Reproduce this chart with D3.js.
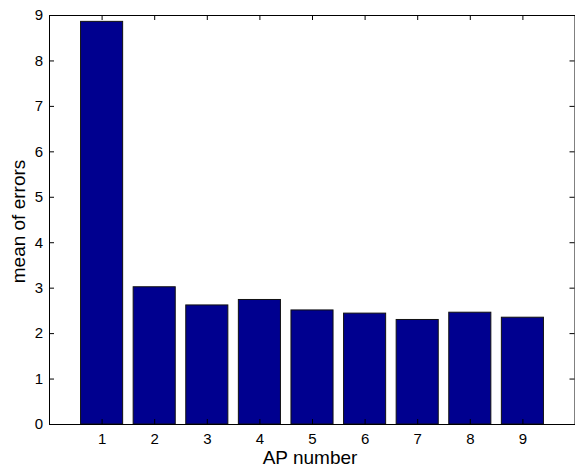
<!DOCTYPE html>
<html><head><meta charset="utf-8">
<script src="https://cdn.jsdelivr.net/npm/d3@7"></script>
<style>body{margin:0;background:#fff;} svg{display:block;}</style>
</head><body>
<script>
const categories = [1,2,3,4,5,6,7,8,9];
const values = [8.86, 3.02, 2.62, 2.74, 2.51, 2.44, 2.30, 2.46, 2.35];
const yTicks = [0,1,2,3,4,5,6,7,8,9];
const xLabel = "AP number";
const yLabel = "mean of errors";

const W = 575, H = 469;
const m = {left: 49, top: 15, right: 575, bottom: 424};
const svg = d3.select("body").append("svg").attr("width", W).attr("height", H)
  .style("font-family", "'Liberation Sans', Arial, Helvetica, sans-serif");

const x = d3.scaleLinear().domain([0, 10]).range([m.left, m.right]);
const y = d3.scaleLinear().domain([0, 9]).range([m.bottom, m.top]);
const bw = (x(1) - x(0)) * 0.8;

svg.append("g").selectAll("rect").data(values).join("rect")
  .attr("x", (d, i) => x(categories[i]) - bw / 2)
  .attr("y", d => y(d))
  .attr("width", bw)
  .attr("height", d => y(0) - y(d))
  .attr("fill", "#00008f")
  .attr("stroke", "#111")
  .attr("stroke-width", 1);

const tl = 5;
const gx = svg.append("g").attr("transform", `translate(0,${m.bottom})`)
  .call(d3.axisBottom(x).tickValues(categories).tickSize(-tl).tickPadding(9).tickFormat(d3.format("d")));
const gxt = svg.append("g").attr("transform", `translate(0,${m.top})`)
  .call(d3.axisTop(x).tickValues(categories).tickSize(-tl).tickFormat(""));
const gy = svg.append("g").attr("transform", `translate(${m.left},0)`)
  .call(d3.axisLeft(y).tickValues(yTicks).tickSize(-tl).tickPadding(6).tickFormat(d3.format("d")));
const gyr = svg.append("g").attr("transform", `translate(${m.right - 0.5},0)`)
  .call(d3.axisRight(y).tickValues(yTicks).tickSize(-tl).tickFormat(""));

[gx, gxt, gy, gyr].forEach(g => {
  g.attr("font-size", null).attr("font-family", null);
  g.select(".domain").attr("stroke", "#000").attr("stroke-width", 1);
  g.selectAll(".tick line").attr("stroke", "#000");
  g.selectAll("text").attr("fill", "#000").style("font-size", "15px");
});

svg.append("text").attr("x", 310).attr("y", 464)
  .attr("text-anchor", "middle").style("font-size", "19px").text(xLabel);
svg.append("text").attr("transform", `translate(25,${(m.top + m.bottom) / 2 + 2}) rotate(-90)`)
  .attr("text-anchor", "middle").style("font-size", "19px").text(yLabel);
</script>
</body></html>
